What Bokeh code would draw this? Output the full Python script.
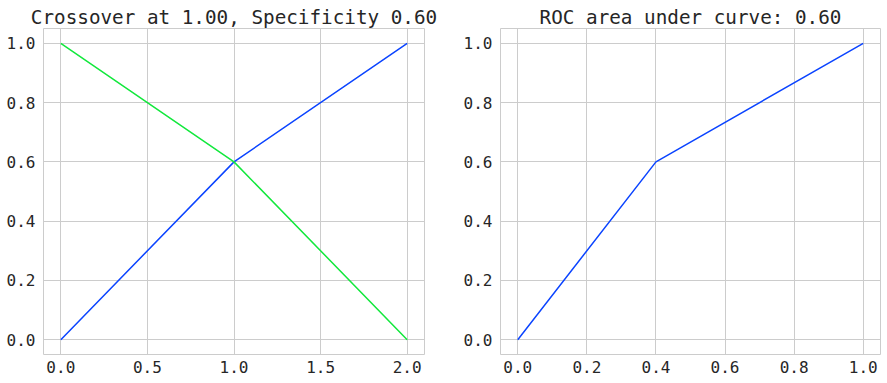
from bokeh.plotting import figure
from bokeh.layouts import row
from bokeh.models import FixedTicker, PrintfTickFormatter, Range1d
from bokeh.embed import file_html
from bokeh.resources import INLINE

# data
thresholds = [0.0, 1.0, 2.0]
sensitivity = [0.0, 0.6, 1.0]
specificity = [1.0, 0.6, 0.0]
fpr = [0.0, 0.4, 1.0]
tpr = [0.0, 0.6, 1.0]
left_xticks = [0.0, 0.5, 1.0, 1.5, 2.0]
right_xticks = [0.0, 0.2, 0.4, 0.6, 0.8, 1.0]
yticks = [0.0, 0.2, 0.4, 0.6, 0.8, 1.0]
title_left = "Crossover at 1.00, Specificity 0.60"
title_right = "ROC area under curve: 0.60"

BLUE = "#0b44ff"
GREEN = "#12e83c"
FONT = "DejaVu Sans Mono"
TXT = "#262626"
GRID = "#cccccc"


def style(p, xticks):
    p.title.text_font = FONT
    p.title.text_font_size = "19.3px"
    p.title.text_font_style = "normal"
    p.title.text_color = TXT
    p.title.align = "center"
    p.title.standoff = 0
    p.title.offset = 0
    p.outline_line_color = GRID
    p.outline_line_width = 1
    for ax in (p.xaxis[0], p.yaxis[0]):
        ax.axis_line_color = None
        ax.major_tick_line_color = None
        ax.minor_tick_line_color = None
        ax.major_tick_out = 0
        ax.major_tick_in = 0
        ax.major_label_text_font = FONT
        ax.major_label_text_font_size = "16px"
        ax.major_label_text_color = TXT
        ax.formatter = PrintfTickFormatter(format="%.1f")
    p.xaxis[0].ticker = FixedTicker(ticks=xticks)
    p.yaxis[0].ticker = FixedTicker(ticks=yticks)
    p.xaxis[0].major_label_standoff = 6
    p.yaxis[0].major_label_standoff = 8
    p.xgrid[0].ticker = FixedTicker(ticks=xticks)
    p.ygrid[0].ticker = FixedTicker(ticks=yticks)
    p.xgrid.grid_line_color = GRID
    p.ygrid.grid_line_color = GRID
    p.background_fill_color = "white"
    p.border_fill_color = "white"


p1 = figure(width=450, height=383, output_backend="svg", toolbar_location=None,
            title=title_left, x_range=Range1d(-0.1, 2.1), y_range=Range1d(-0.05, 1.05),
            min_border_left=43, min_border_right=26, min_border_top=28, min_border_bottom=29)
style(p1, left_xticks)
p1.line(thresholds, sensitivity, line_color=BLUE, line_width=1.5)
p1.line(thresholds, specificity, line_color=GREEN, line_width=1.5)

p2 = figure(width=437, height=383, output_backend="svg", toolbar_location=None,
            title=title_right, x_range=Range1d(-0.05, 1.05), y_range=Range1d(-0.05, 1.05),
            min_border_left=50, min_border_right=7, min_border_top=28, min_border_bottom=29)
style(p2, right_xticks)
p2.line(fpr, tpr, line_color=BLUE, line_width=1.5)

layout = row(p1, p2)
open("out.html", "w").write(file_html(layout, INLINE))
